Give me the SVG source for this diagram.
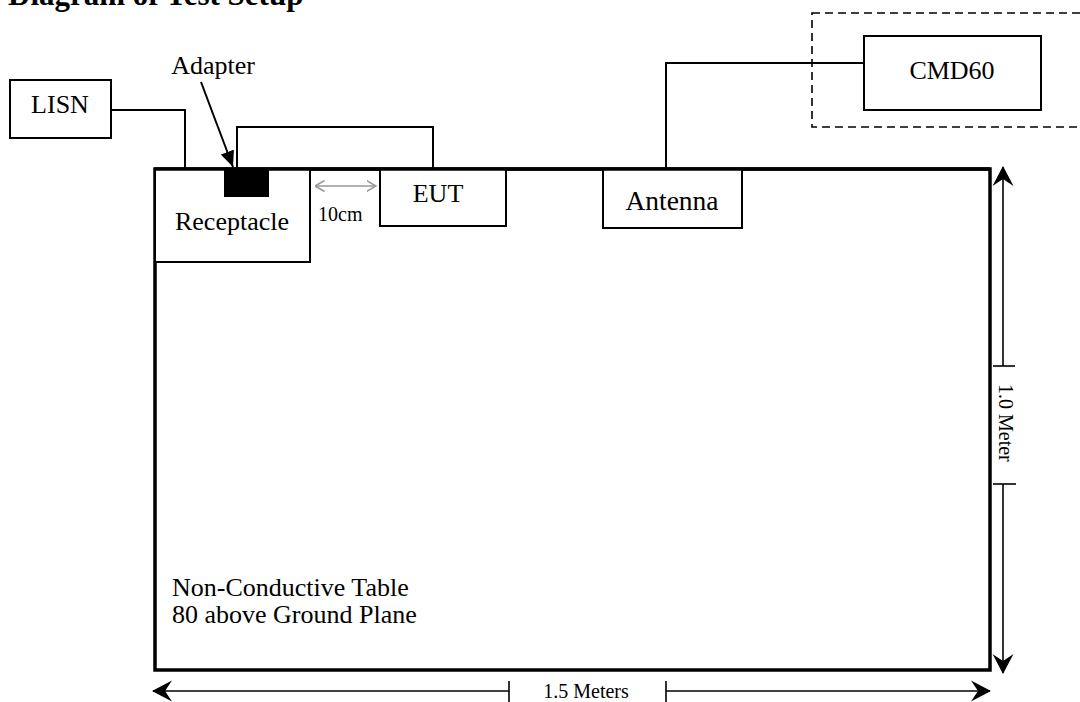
<svg xmlns="http://www.w3.org/2000/svg" width="1080" height="702" viewBox="0 0 1080 702">
<defs>
<style>
text{font-family:"Liberation Serif","Times New Roman",serif;fill:#000}
.lbl{font-size:26px}
.sm{font-size:20px}
.box{fill:#fff;stroke:#000;stroke-width:2}
.wire{fill:none;stroke:#000;stroke-width:2}
.dim{fill:none;stroke:#000;stroke-width:1.6}
</style>
<marker id="dimArrow" viewBox="0 0 20 22" refX="19" refY="11" markerWidth="20" markerHeight="22" markerUnits="userSpaceOnUse" orient="auto-start-reverse">
<path d="M0,0.5 L20,11 L0,21.5 L7,11 Z" fill="#000"/>
</marker>
<marker id="grayArrow" viewBox="0 0 10 12" refX="9.5" refY="6" markerWidth="10" markerHeight="12" markerUnits="userSpaceOnUse" orient="auto-start-reverse">
<polyline points="0,0.5 9.5,6 0,11.5" fill="none" stroke="#999" stroke-width="1.6"/>
</marker>
<marker id="solidArrow" viewBox="0 0 16 14" refX="16" refY="7" markerWidth="16" markerHeight="14" markerUnits="userSpaceOnUse" orient="auto">
<path d="M0,0 L16,7 L0,14 Z" fill="#000"/>
</marker>
</defs>
<rect width="1080" height="702" fill="#fff"/>

<text x="8" y="5" style="font-size:31px;font-weight:bold">Diagram of Test Setup</text>

<g id="table">
<rect x="155" y="169" width="835" height="501" fill="none" stroke="#000" stroke-width="3.5"/>
<text class="lbl" x="172" y="596">Non-Conductive Table</text>
<text class="lbl" x="172" y="623">80 above Ground Plane</text>
</g>

<g id="connectors">
<polyline class="wire" points="111,110 185,110 185,169"/>
<polyline class="wire" points="237,169 237,127 433,127 433,169"/>
<polyline class="wire" points="666,169 666,63 864,63"/>
<line x1="201" y1="82" x2="233" y2="167" stroke="#000" stroke-width="2" marker-end="url(#solidArrow)"/>
<line x1="315" y1="186" x2="376" y2="186" stroke="#999" stroke-width="1.6" marker-start="url(#grayArrow)" marker-end="url(#grayArrow)"/>
</g>

<g id="lisn">
<rect class="box" x="10" y="80" width="101" height="58"/>
<text class="lbl" x="60" y="113" text-anchor="middle">LISN</text>
</g>

<g id="adapter">
<text class="lbl" x="213" y="74" text-anchor="middle">Adapter</text>
</g>

<g id="receptacle">
<rect class="box" x="155" y="169" width="155" height="93"/>
<text class="lbl" x="232" y="230" text-anchor="middle">Receptacle</text>
</g>

<rect id="adapter-block" x="224" y="169" width="45" height="28" fill="#000"/>

<g id="eut">
<rect class="box" x="380" y="169" width="126" height="57"/>
<text class="lbl" x="438" y="202" text-anchor="middle">EUT</text>
</g>

<g id="antenna">
<rect class="box" x="603" y="169" width="139" height="59"/>
<text x="672" y="210" text-anchor="middle" style="font-size:27.5px">Antenna</text>
</g>

<g id="cmd60">
<rect x="812" y="13" width="290" height="114" fill="none" stroke="#000" stroke-width="1.6" stroke-dasharray="8,5"/>
<rect class="box" x="864" y="36" width="177" height="74"/>
<text class="lbl" x="952" y="79" text-anchor="middle">CMD60</text>
</g>

<g id="table-top-edge">
<line x1="155" y1="169" x2="990" y2="169" stroke="#000" stroke-width="3.5"/>
</g>

<g id="label-10cm">
<text class="sm" x="318" y="221">10cm</text>
</g>

<g id="dim-height">
<line class="dim" x1="1003" y1="366" x2="1003" y2="167" marker-end="url(#dimArrow)"/>
<line class="dim" x1="993" y1="366" x2="1015" y2="366"/>
<line class="dim" x1="1003" y1="484" x2="1003" y2="673" marker-end="url(#dimArrow)"/>
<line class="dim" x1="993" y1="484" x2="1016" y2="484"/>
<text class="sm" transform="translate(999,384) rotate(90)">1.0 Meter</text>
</g>

<g id="dim-width">
<line class="dim" x1="509" y1="691" x2="153" y2="691" marker-end="url(#dimArrow)"/>
<line class="dim" x1="509" y1="681" x2="509" y2="702"/>
<line class="dim" x1="666" y1="691" x2="990" y2="691" marker-end="url(#dimArrow)"/>
<line class="dim" x1="666" y1="681" x2="666" y2="702"/>
<text class="sm" x="586" y="698" text-anchor="middle">1.5 Meters</text>
</g>
</svg>
